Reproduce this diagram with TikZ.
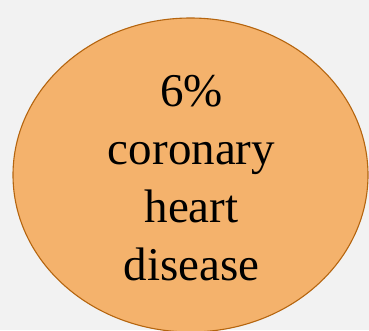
\documentclass[tikz,border=0pt]{standalone}
\usepackage{fontspec}
\setmainfont{Liberation Serif}
\usepackage{xcolor}
\definecolor{bgGray}{HTML}{F2F2F2}
\definecolor{riskFill}{HTML}{F4B26C}
\definecolor{riskLine}{HTML}{B5650F}

\begin{document}
\begin{tikzpicture}[x=1pt,y=-1pt]
\useasboundingbox (0,0) rectangle (369,330);
\fill[bgGray] (0,0) rectangle (369,330);
\begin{scope}
\clip (0,0) rectangle (369,330);
\draw[fill=riskFill,draw=riskLine,line width=1.1pt] (190.5,175) ellipse [x radius=177.5pt,y radius=157pt];
\end{scope}
\node[align=center,font=\fontsize{47}{58}\selectfont] (chd) at (191.5,178.5) {6\%\\coronary\\heart\\disease};
\end{tikzpicture}
\end{document}
